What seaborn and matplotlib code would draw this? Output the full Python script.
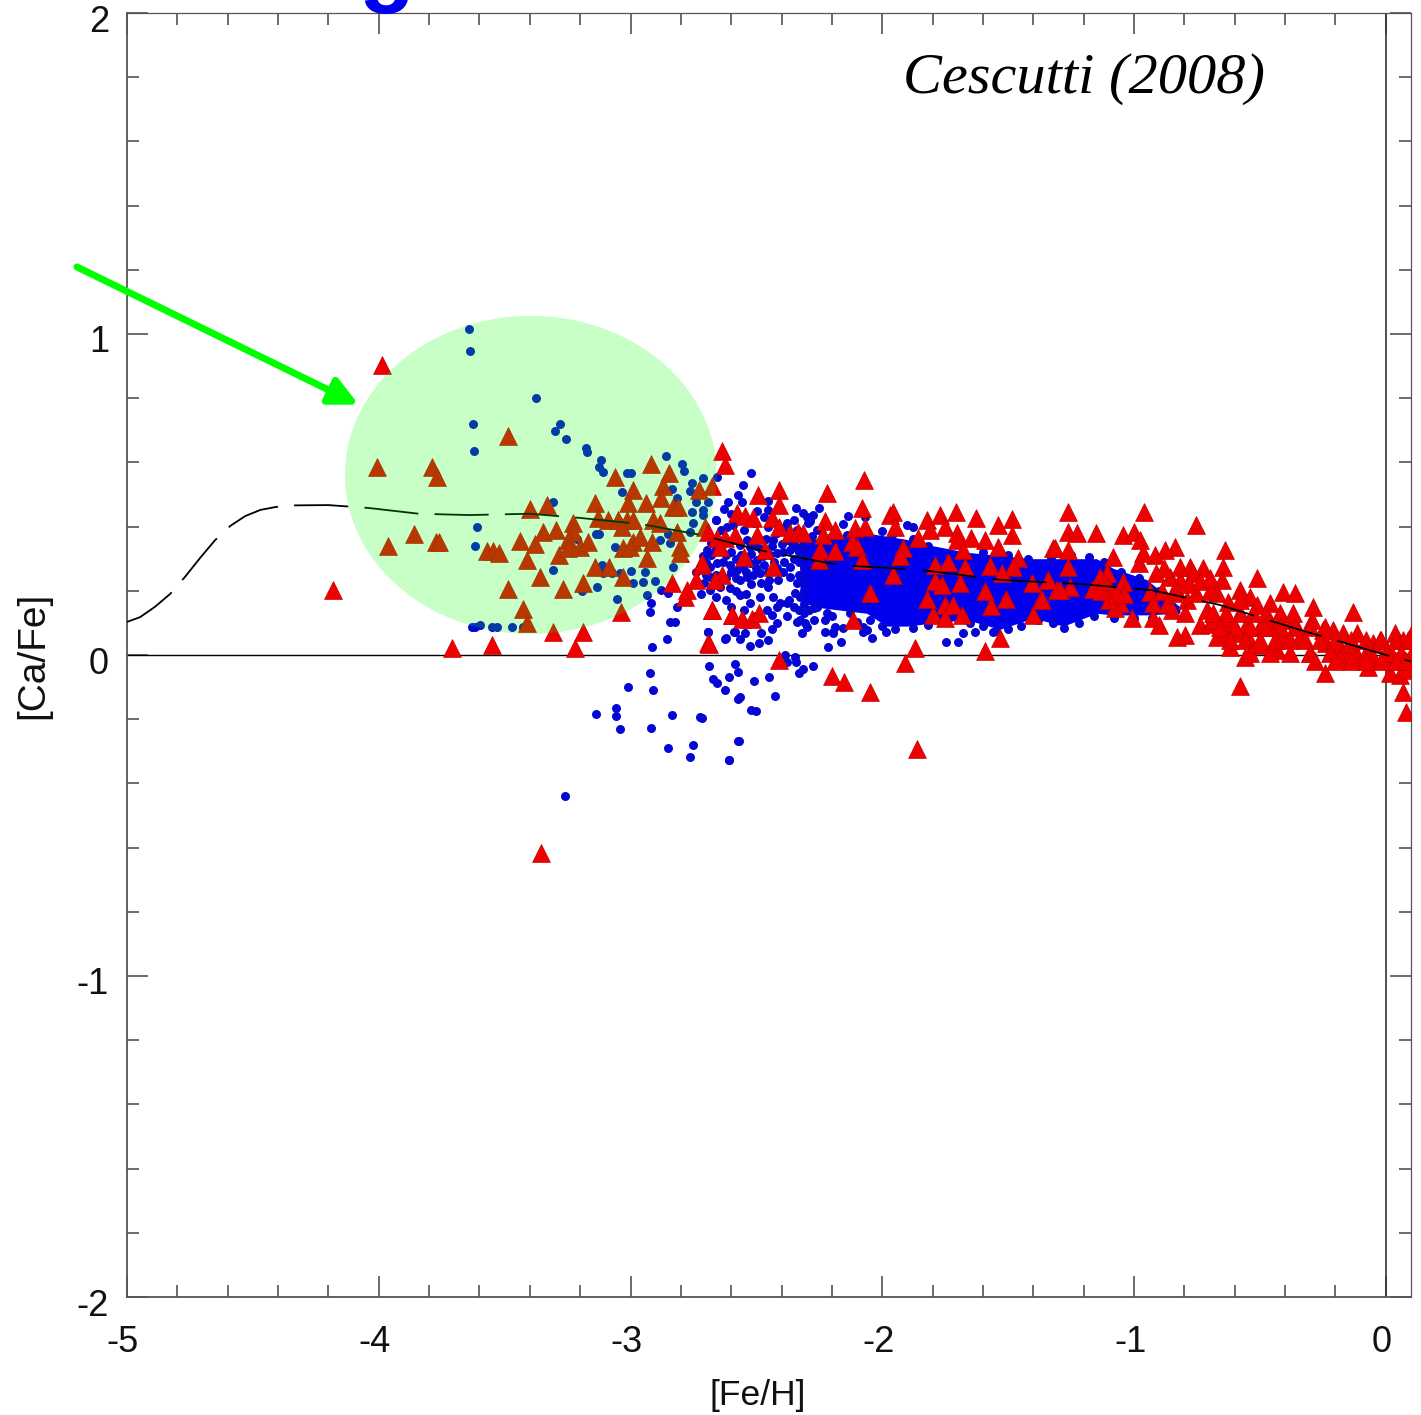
import numpy as np
import seaborn as sns
import matplotlib.pyplot as plt
from matplotlib.patches import Ellipse
from matplotlib.transforms import ScaledTranslation

# values, (Fe/H, Ca/Fe)
blue_left = [(-3.643,1.015),(-3.639,.946),(-3.374,.802),(-3.627,.721),(-3.28,.719),(-3.30,.699),(-3.256,.673),
             (-3.177,.644),(-3.174,.631),(-3.623,.634),(-3.119,.606),(-3.124,.587),(-3.108,.571),(-2.858,.62),
             (-2.998,.566),(-3.015,.566),(-2.797,.595),(-2.788,.574),(-3.033,.508),(-2.658,.554),(-2.714,.551),
             (-2.757,.535),(-2.764,.512),(-2.837,.517),(-2.817,.488),(-3.307,.476),(-2.738,.478),(-2.694,.476),
             (-2.757,.447),(-2.711,.452),(-2.711,.436),(-3.611,.398),(-3.617,.34),(-2.661,.421),(-2.751,.41),
             (-2.764,.384),(-3.137,.377),(-3.125,.377),(-3.214,.362),(-3.062,.338),(-2.85,.377),(-2.883,.358),
             (-2.843,.348),(-3.307,.266),(-3.115,.281),(-3.108,.255),(-3.075,.255),(-3.042,.255),(-3.0,.263),
             (-2.943,.26),(-2.83,.275),(-2.989,.223),(-2.949,.226),(-2.903,.229),(-2.877,.203),(-2.85,.192),
             (-3.135,.213),(-3.194,.2),(-3.055,.174),(-2.936,.187),(-2.92,.161),(-2.923,.135),(-3.618,.088),
             (-3.631,.088),(-3.598,.094),(-3.532,.086),(-3.552,.086),(-3.472,.086),(-3.426,.088),(-2.843,.104),
             (-2.823,.104),(-2.817,.148),(-2.694,.073),(-2.857,.049),(-2.916,.026),(-2.622,.052),(-2.585,.073)]
blue_low = [(-3.26,-.44),(-3.137,-.184),(-3.058,-.165),(-3.058,-.19),(-3.04,-.23),(-3.01,-.10),(-2.923,-.056),
            (-2.911,-.109),(-2.919,-.227),(-2.851,-.29),(-2.835,-.187),(-2.764,-.318),(-2.752,-.28),(-2.724,-.193),
            (-2.609,-.327),(-2.573,-.268),(-2.52,-.171),(-2.566,-.131),(-2.688,-.034),(-2.585,-.028),(-2.572,-.052),
            (-2.671,-.076),(-2.658,-.088),(-2.608,-.069),(-2.625,-.109),(-2.574,-.138),(-2.508,-.081),(-2.45,-.069),
            (-2.426,-.128),(-2.503,-.174),(-2.717,-.195),(-2.57,-.268),(-2.608,-.327),(-2.386,0.0),(-2.347,-.005),
            (-2.344,-.021),(-2.377,-.021),(-2.274,-.034),(-2.314,-.044),(-2.329,-.057),(-2.691,.073),(-2.588,.073),
            (-2.545,.07),(-2.565,.05),(-2.623,.05),(-2.525,.029),(-2.488,.037),(-2.482,.07),(-2.437,.08),(-2.453,.047),
            (-2.32,.07),(-2.214,.024),(-2.165,.042),(-2.228,.073),(-2.195,.073),(-2.042,.052),(-2.075,.073),
            (-1.985,.073),(-1.747,.042),(-1.698,.04),(-1.678,.068),(-1.632,.073),(-1.559,.073)]
blue_mid = [(-2.523,.566),(-2.552,.53),(-2.611,.478),(-2.572,.499),(-2.559,.478),(-2.629,.455),(-2.455,.481),
            (-2.499,.45),(-2.453,.452),(-2.343,.457),(-2.25,.459),(-2.135,.433),(-2.069,.429),(-2.66,.421),
            (-2.157,.408),(-2.30,.431),(-2.287,.416),(-1.903,.405),(-1.877,.398),(-2.71,.265),(-2.684,.275),
            (-2.658,.286),(-2.631,.291),(-2.605,.281),(-2.578,.265),(-2.552,.275),(-2.525,.286),(-2.499,.296),
            (-2.472,.307),(-2.446,.312),(-2.42,.317),(-2.393,.322),(-2.367,.327),(-2.34,.338),(-2.314,.343),
            (-2.684,.244),(-2.645,.213),(-2.605,.208),(-2.565,.234),(-2.539,.244),(-2.512,.25),(-2.486,.255),
            (-2.453,.26),(-2.42,.27),(-2.393,.26),(-2.367,.275),(-2.565,.187),(-2.525,.161),(-2.486,.182),
            (-2.453,.213),(-2.413,.234),(-2.367,.244),(-2.34,.223),(-2.327,.182),(-2.347,.192),(-2.433,.182),
            (-2.459,.14),(-2.439,.125),(-2.406,.161),(-2.38,.161),(-2.525,.338),(-2.565,.343),(-2.592,.358),
            (-2.539,.358),(-2.499,.364),(-2.433,.358),(-2.38,.358),(-2.327,.369),(-2.287,.426),(-2.314,.442),
            (-2.274,.436),(-2.294,.41),(-2.618,.4),(-2.592,.405),(-2.658,.358),(-2.698,.327),(-2.711,.307),
            (-2.393,.395),(-2.453,.4),(-2.34,.39),(-2.261,.39),(-2.71,.223),(-2.684,.203),(-2.327,.109),
            (-2.307,.099),(-2.3,.088),(-2.34,.104),(-2.261,.151),(-2.194,.068),(-2.188,.088),(-2.228,.109),
            (-2.155,.083),(-2.102,.104),(-2.075,.088),(-2.062,.078)]
blue_fill = [(-2.68,.31),(-2.64,.33),(-2.6,.32),(-2.56,.31),(-2.52,.315),(-2.48,.33),(-2.44,.34),(-2.4,.345),
             (-2.36,.35),(-2.33,.32),(-2.33,.29),(-2.35,.3),(-2.31,.31),(-2.31,.27),(-2.31,.23),(-2.31,.2),
             (-2.33,.25),(-2.39,.29),(-2.43,.29),(-2.47,.28),(-2.5,.27),(-2.54,.26),(-2.58,.24),(-2.62,.24),
             (-2.66,.25),(-2.7,.25),(-2.45,.235),(-2.37,.17),(-2.31,.16),(-2.31,.13),(-2.29,.14),(-2.33,.14),
             (-2.42,.15),(-2.58,.2),(-2.54,.19),(-2.66,.33),(-2.62,.31),(-2.58,.3),(-2.6,.26),(-2.52,.22),
             (-2.48,.225),(-2.5,.34),(-2.46,.36),(-2.42,.38),(-2.38,.41),(-2.35,.42),(-2.55,.39),(-2.51,.41),
             (-2.47,.43),(-2.6,.44),(-2.64,.39),(-2.68,.35),(-2.7,.29),(-2.74,.26),(-2.72,.19),(-2.66,.18),
             (-2.62,.17),(-2.6,.15),(-2.55,.14),(-2.5,.12),(-2.42,.1),(-2.38,.12),(-2.35,.15),(-2.27,.11),
             (-2.22,.13)]
blue_edge = [(-2.28,.37),(-2.2,.37),(-2.14,.375),(-2.0,.385),(-1.96,.375),(-1.88,.36),(-1.82,.34),(-1.6,.32),
             (-1.5,.31),(-1.42,.30),(-1.33,.3),(-1.25,.31),(-1.18,.305),(-1.12,.29),(-1.05,.26),(-.98,.24),
             (-.9,.2),(-.86,.17),(-2.27,.145),(-2.2,.12),(-2.13,.13),(-2.05,.11),(-2.0,.09),(-1.95,.08),
             (-1.88,.085),(-1.82,.095),(-1.65,.10),(-1.6,.09),(-1.55,.075),(-1.5,.08),(-1.45,.09),(-1.38,.11),
             (-1.32,.1),(-1.28,.085),(-1.22,.1),(-1.16,.12),(-1.08,.115),(-1,.115),(-.93,.115)]

# the saturated part of the blue cloud, upper and lower edge
band_feh = [-2.327,-2.274,-2.168,-2.062,-1.983,-1.903,-1.797,-1.665,-1.533,-1.40,-1.281,-1.149,-1.083,-.95,-.818]
band_upper = [.358,.36,.37,.38,.37,.36,.34,.32,.31,.30,.30,.30,.27,.235,.15]
band_lower = [.172,.15,.14,.13,.09,.09,.10,.11,.08,.115,.09,.13,.125,.125,.13]

red_left = [(-3.989,.904),(-4.008,.587),(-3.79,.587),(-3.77,.556),(-3.488,.682),(-3.965,.34),(-3.86,.377),
            (-3.774,.353),(-3.76,.353),(-3.569,.325),(-3.548,.325),(-3.521,.317),(-3.399,.455),(-3.331,.468),
            (-3.439,.356),(-3.38,.346),(-3.349,.384),(-3.298,.388),(-3.41,.296),(-3.36,.244),(-3.488,.205),
            (-3.267,.205),(-3.188,.223),(-3.429,.144),(-3.41,.101),(-3.307,.073),(-3.188,.073),(-3.283,.312),
            (-3.23,.41),(-3.23,.384),(-3.247,.358),(-3.247,.333),(-3.201,.338),(-3.168,.353),(-3.141,.473),
            (-3.141,.275),(-3.084,.275),(-3.031,.244),(-3.038,.133),(-3.062,.556),(-2.989,.514),(-3.009,.475),
            (-2.939,.475),(-2.92,.595),(-2.847,.566),(-2.87,.525),(-2.877,.488),(-2.83,.462),(-2.81,.462),
            (-3.128,.426),(-3.088,.421),(-3.049,.421),(-3.016,.421),(-2.989,.421),(-3.035,.4),(-2.91,.421),
            (-2.883,.41),(-2.817,.384),(-3.029,.333),(-2.989,.353),(-2.963,.369),(-2.916,.353),(-3.002,.338),
            (-2.804,.338),(-2.804,.317),(-2.936,.301),(-2.727,.514),(-2.678,.527),(-2.704,.4),(-2.638,.634),
            (-2.625,.592),(-2.837,.223),(-2.784,.182),(-2.777,.203),(-2.74,.234),(-2.72,.28),(-2.678,.14),
            (-2.598,.125),(-2.691,.037),(-3.708,.021),(-3.552,.031),(-3.221,.021),(-4.182,.202),(-3.356,-.617)]
red_mid = [(-2.492,.499),(-2.409,.514),(-2.409,.468),(-2.221,.506),(-2.071,.545),(-2.079,.457),(-2.578,.442),
           (-2.545,.433),(-2.512,.426),(-2.439,.426),(-2.409,.4),(-2.691,.384),(-2.658,.364),(-2.625,.364),
           (-2.585,.374),(-2.645,.338),(-2.499,.374),(-2.367,.379),(-2.333,.384),(-2.314,.379),(-2.228,.416),
           (-2.234,.374),(-2.188,.39),(-2.108,.395),(-2.069,.398),(-1.969,.436),(-1.959,.447),(-1.95,.398),
           (-2.122,.353),(-2.102,.338),(-2.466,.327),(-2.247,.327),(-2.188,.325),(-2.25,.296),(-2.079,.296),
           (-2.549,.304),(-2.433,.275),(-1.917,.332),(-1.93,.307),(-1.959,.249),(-2.049,.192),(-2.638,.25),
           (-2.664,.234),(-2.717,.286),(-2.678,.14),(-2.598,.125),(-2.559,.112),(-2.519,.112),(-2.488,.132),
           (-2.687,.034),(-2.118,.109),(-2.409,-.017),(-1.87,.021),(-1.91,-.026),(-1.592,.014),(-1.533,.052),
           (-2.201,-.065),(-2.151,-.085),(-2.049,-.114),(-1.861,-.294),(-1.824,.421),(-1.771,.436),(-1.709,.447),
           (-1.629,.426),(-1.539,.405),(-1.486,.423),(-1.857,.364),(-1.811,.39),(-1.751,.4),(-1.705,.379),
           (-1.705,.358),(-1.649,.366),(-1.592,.358),(-1.678,.327),(-1.539,.336),(-1.486,.374),(-1.321,.332),
           (-1.791,.281),(-1.738,.291),(-1.672,.275),(-1.572,.277),(-1.459,.301),(-1.48,.275),(-1.526,.255),
           (-1.791,.229),(-1.764,.218),(-1.691,.223),(-1.592,.198),(-1.407,.223),(-1.341,.234),(-1.307,.203),
           (-1.821,.174),(-1.57,.154),(-1.509,.174),(-1.37,.174),(-1.751,.156),(-1.718,.156),(-1.797,.125),
           (-1.751,.114),(-1.685,.125),(-1.40,.125)]
red_right = [(-1.261,.446),(-.96,.446),(-.752,.405),(-1.261,.384),(-1.228,.379),(-1.152,.379),(-1.043,.374),
             (-1.001,.384),(-.977,.358),(-1.314,.332),(-1.261,.327),(-1.261,.275),(-1.085,.306),(-.838,.337),
             (-.878,.327),(-.917,.311),(-.964,.317),(-.981,.287),(-.639,.327),(-.513,.239),(-.13,.135),(-.291,.15),
             (-1.341,.233),(-1.255,.213),(-1.295,.202),(-1.109,.254),(-1.136,.244),(-1.162,.207),(-1.043,.228),
             (-1.096,.202),(-1.056,.161),(-1.076,.145),(-1.367,.171),(-1.01,.114),(-.924,.114),(-.9,.093),
             (-.911,.254),(-.937,.197),(-.924,.161),(-.858,.244),(-.818,.275),(-.778,.275),(-.725,.27),(-.818,.233),
             (-.765,.254),(-.844,.192),(-.791,.171),(-.752,.192),(-.798,.13),(-.831,.057),(-.798,.062),(-.739,.093),
             (-.646,.275),(-.652,.233),(-.672,.192),(-.626,.166),(-.58,.202),(-.54,.182),(-.408,.197),(-.361,.192),
             (-.461,.161),(-.513,.156),(-.58,.13),(-.633,.109),(-.699,.098),(-.672,.057),(-.619,.026),(-.56,-.005),
             (-.58,-.097),(-.5,.088),(-.547,.057),(-.494,.031),(-.434,.015),(-.447,.088),(-.368,.109),(-.408,.057),
             (-.341,.057),(-.295,.109),(-.302,.005),(-.249,.078),(-.209,.078),(-.169,.067),(-.116,.067),(-.236,.036),
             (-.183,.026),(-.13,.026),(-.242,-.055),(-.07,-.037),(-.05,.036),(-.024,.047),(.036,.067),(.102,.067),
             (.069,.047),(.003,.015),(.029,-.005),(.095,-.005),(.056,-.062),(.016,-.057),(.089,-.047),(.069,-.114),
             (.08,-.177),(-.05,-.005),(-.116,-.005),(-.183,-.01),(-.593,.067),(-.712,.14),(-.58,.171),(-.474,.119),
             (-.421,.109),(-.686,.109),(-.633,.067),(-.553,.098)]
red_dense = [(-.686,.13),(-.633,.13),(-.527,.13),(-.474,.13),(-.421,.13),(-.368,.13),(-.66,.088),(-.6,.088),
             (-.54,.088),(-.48,.088),(-.42,.088),(-.36,.088),(-.3,.088),(-.24,.088),(-.62,.047),(-.56,.047),
             (-.5,.047),(-.44,.047),(-.38,.047),(-.32,.047),(-.26,.047),(-.2,.047),(-.14,.047),(-.08,.047),
             (-.02,.047),(.04,.047),(.09,.047),(-.54,.005),(-.46,.005),(-.38,.005),(-.3,.005),(-.22,.005),
             (-.14,.005),(-.08,.005),(0,.005),(.06,.005),(-.28,-.02),(-.2,-.02),(-.14,-.02),(-.08,-.02),
             (-.02,-.02),(.04,-.02),(.08,-.02),(-.89,.2),(-.87,.16),(-.85,.14),(-.83,.2),(-.78,.22),(-.74,.23),
             (-.7,.2),(-.7,.24),(-.88,.27),(-1.13,.2),(-1.1,.17),(-1.07,.19),(-1.04,.19),(-1.12,.23)]

curve_feh = [-5,-4.948,-4.889,-4.829,-4.77,-4.71,-4.65,-4.59,-4.53,-4.47,-4.41,-4.353,-4.2,-4.04,-3.84,-3.64,-3.40,
             -3.2,-2.96,-2.72,-2.49,-2.17,-1.85,-1.53,-1.21,-.93,-.66,-.34,0,.1]
curve_cafe = [.103,.118,.15,.19,.243,.302,.358,.402,.433,.452,.461,.466,.467,.458,.44,.436,.44,.427,.408,.374,
              .327,.28,.265,.234,.221,.202,.156,.078,0,-.02]

xticks = [-5,-4,-3,-2,-1,0]
yticks = [-2,-1,0,1,2]

sns.set_style('white')
plt.rcParams['font.family'] = ['Liberation Sans', 'DejaVu Sans']

fig = plt.figure(figsize=(14.21, 14.15), dpi=100)
ax = fig.add_axes([127/1421, 1-1297/1415, 1284/1421, 1284/1415])

blue = np.array(blue_left + blue_low + blue_mid + blue_fill + blue_edge)
red = np.array(red_left + red_mid + red_right + red_dense)

ax.fill_between(band_feh, band_lower, band_upper, color='#0000ee', lw=0, zorder=2)
sns.scatterplot(x=blue[:, 0], y=blue[:, 1], ax=ax, color='#0606d4', s=42, linewidth=0, zorder=2)
sns.scatterplot(x=red[:, 0], y=red[:, 1], ax=ax, color='#ee0000', marker='^', s=165,
                edgecolor='#c40000', linewidth=0.5, zorder=4)
sns.lineplot(x=curve_feh, y=curve_cafe, ax=ax, color='black', lw=1.3, linestyle=(0, (30, 9)), sort=False, zorder=4.5)

ax.axhline(0, color='black', lw=1, zorder=1)
ax.axvline(0, color='#333333', lw=1.2, zorder=1)

# the highlight sits on top of the points, that is why they turn brown in it
ax.add_patch(Ellipse((-3.396, .561), 1.477, .991, color='#00ff00', alpha=.22, lw=0, zorder=5))

ax.annotate('', xy=(-4.08, .78), xytext=(-5.199, 1.209), annotation_clip=False, zorder=6,
            arrowprops=dict(arrowstyle='-|>,head_length=0.85,head_width=0.42', color='#00ff00', lw=5,
                            shrinkA=0, shrinkB=0, mutation_scale=20))

ax.set_xlim(-5, .1)
ax.set_ylim(-2, 2)
ax.set_xticks(xticks)
ax.set_yticks(yticks)
ax.set_xticklabels([str(t) for t in xticks])
ax.set_yticklabels([str(t) for t in yticks])
ax.set_xticks(np.arange(-4.8, .1, .2), minor=True)
ax.set_yticks(np.arange(-1.8, 2, .2), minor=True)
ax.tick_params(which='major', direction='in', length=15, width=1.1, color='#444444', top=True, right=True,
               left=True, bottom=True, labelsize=26, labelcolor='#111111')
ax.tick_params(which='minor', direction='in', length=8.5, width=1.1, color='#444444', top=True, right=True,
               left=True, bottom=True)
ax.tick_params(axis='x', which='major', pad=20)
ax.tick_params(axis='y', which='major', pad=13)
for lab in ax.get_yticklabels():
    lab.set_transform(lab.get_transform() + ScaledTranslation(0, -5/100, fig.dpi_scale_trans))
for lab in ax.get_xticklabels():
    lab.set_transform(lab.get_transform() + ScaledTranslation(-4/100, 0, fig.dpi_scale_trans))
for s in ax.spines.values():
    s.set_color('#555555')
    s.set_linewidth(1.3)
ax.spines['top'].set_linewidth(0.9)
ax.spines['right'].set_linewidth(0.9)

ax.set_xlabel('[Fe/H]', fontsize=25.5, color='#111111')
ax.xaxis.set_label_coords(631/1284, -82/1284)
ax.set_ylabel('[Ca/Fe]', fontsize=28, color='#111111')
ax.yaxis.set_label_coords(-76/1284, 642/1284)

fig.text(903/1421, 1-93/1415, 'Cescutti (2008)', fontsize=42, style='italic', family='Liberation Serif', color='black')
# title was cut off in the source, only the tail of a letter is left
fig.text(358/1421, 1+5/1415, 'g', fontsize=66, fontweight='bold', color='#0000ee', va='baseline')

plt.savefig('out.png', dpi=100)
